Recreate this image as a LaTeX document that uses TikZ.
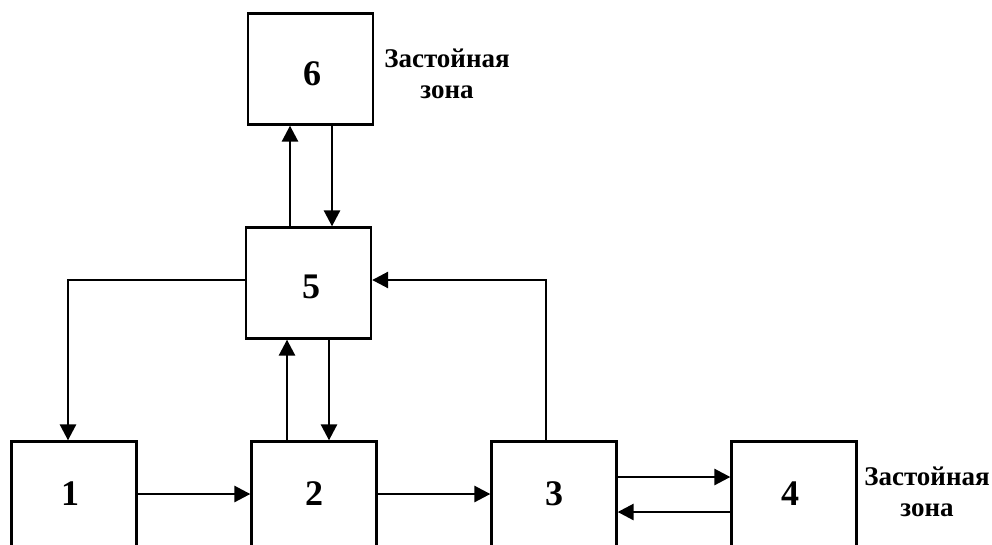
\documentclass[tikz,border=0pt]{standalone}
\usepackage{fontspec}
\setmainfont{Liberation Serif}
\usetikzlibrary{arrows.meta}
\begin{document}
\begin{tikzpicture}[x=1pt,y=-1pt,
  box/.style={draw,line width=2.3pt,minimum width=125pt,minimum height=111pt,inner sep=0pt},
  num/.style={inner sep=0pt,font=\fontsize{36}{40}\selectfont\bfseries},
  arr/.style={line width=2.7pt,-{Triangle[length=16pt,width=16pt]}},
  zone/.style={align=center,inner sep=0pt,font=\fontsize{27}{31}\selectfont\bfseries}]
\useasboundingbox[fill=white] (0,0) rectangle (992,544);
\node[box] (n6) at (310.5,69) {};
\node[box] (n5) at (308.5,283) {};
\node[box] (n1) at (74,497) {};
\node[box] (n2) at (314,497) {};
\node[box] (n3) at (554,497) {};
\node[box] (n4) at (794,497) {};
\node[num] (t6) at (312,74) {6};
\node[num] (t5) at (311,287) {5};
\node[num] (t1) at (70,494) {1};
\node[num] (t2) at (314,494) {2};
\node[num] (t3) at (554,494) {3};
\node[num] (t4) at (790,494) {4};
\node[zone] (z6) at (447,74) {Застойная\\зона};
\node[zone] (z4) at (927,492) {Застойная\\зона};
% x positions of vertical connectors
\coordinate (xa) at (290,0);
\coordinate (xb) at (332,0);
\coordinate (xc) at (287,0);
\coordinate (xd) at (329,0);
\coordinate (xe) at (68,0);
\coordinate (xf) at (546,0);
\coordinate (ya) at (0,280);
\coordinate (yb) at (0,494);
\coordinate (yc) at (0,477);
\coordinate (yd) at (0,512);
% 5 <-> 6
\draw[arr] (xa |- n5.north) -- (xa |- n6.south);
\draw[arr] (xb |- n6.south) -- (xb |- n5.north);
% 2 <-> 5
\draw[arr] (xc |- n2.north) -- (xc |- n5.south);
\draw[arr] (xd |- n5.south) -- (xd |- n2.north);
% 5 -> 1
\draw[arr] (n5.west |- ya) -| (xe |- n1.north);
% 3 -> 5
\draw[arr] (xf |- n3.north) |- (n5.east |- ya);
% 1 -> 2 -> 3
\draw[arr] (n1.east |- yb) -- (n2.west |- yb);
\draw[arr] (n2.east |- yb) -- (n3.west |- yb);
% 3 <-> 4
\draw[arr] (n3.east |- yc) -- (n4.west |- yc);
\draw[arr] (n4.west |- yd) -- (n3.east |- yd);
\end{tikzpicture}
\end{document}
